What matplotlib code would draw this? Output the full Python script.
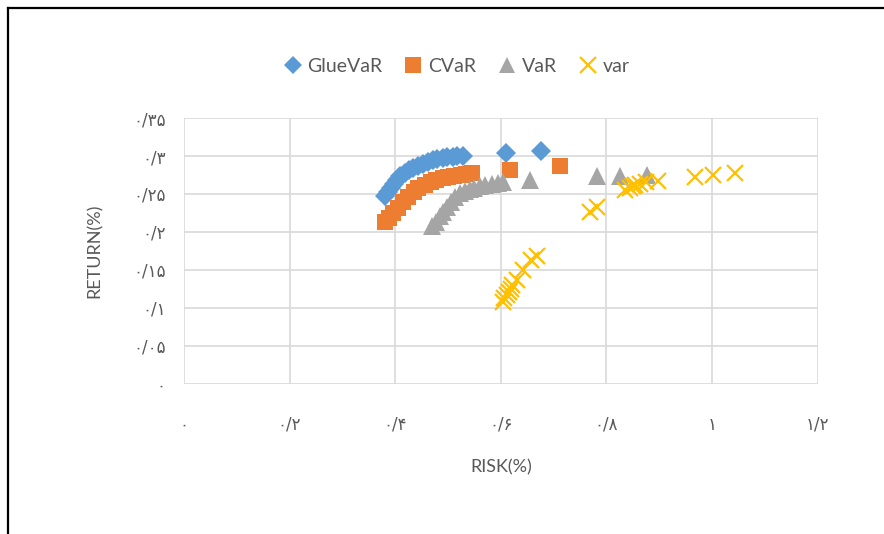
import matplotlib
matplotlib.use("Agg")
import matplotlib.pyplot as plt
from matplotlib.lines import Line2D

# Efficient-frontier points (risk, return) for each risk measure
gluevar_risk = [0.380, 0.386, 0.392, 0.397, 0.403, 0.410, 0.418, 0.426, 0.433, 0.443,
                0.452, 0.462, 0.471, 0.480, 0.490, 0.499, 0.509, 0.518, 0.528, 0.609, 0.677]
gluevar_ret = [0.247, 0.253, 0.258, 0.263, 0.268, 0.274, 0.278, 0.282, 0.284, 0.287,
               0.289, 0.292, 0.295, 0.296, 0.297, 0.299, 0.299, 0.300, 0.300, 0.304, 0.307]

cvar_risk = [0.380, 0.388, 0.395, 0.405, 0.414, 0.424, 0.435, 0.444, 0.456, 0.467,
             0.478, 0.490, 0.501, 0.512, 0.524, 0.535, 0.545, 0.617, 0.713]
cvar_ret = [0.213, 0.218, 0.225, 0.232, 0.239, 0.246, 0.253, 0.258, 0.262, 0.266,
            0.268, 0.271, 0.272, 0.274, 0.275, 0.276, 0.278, 0.282, 0.287]

var_risk = [0.469, 0.477, 0.484, 0.490, 0.498, 0.505, 0.513, 0.522, 0.532, 0.541,
            0.550, 0.560, 0.571, 0.583, 0.594, 0.604, 0.655, 0.783, 0.825, 0.876]
var_ret = [0.208, 0.213, 0.221, 0.226, 0.233, 0.239, 0.246, 0.251, 0.254, 0.257,
           0.258, 0.261, 0.262, 0.263, 0.264, 0.266, 0.268, 0.274, 0.274, 0.275]

variance_risk = [0.604, 0.607, 0.611, 0.615, 0.619, 0.622, 0.630, 0.643, 0.658, 0.668,
                 0.768, 0.783, 0.836, 0.844, 0.850, 0.855, 0.863, 0.874, 0.897,
                 0.967, 1.001, 1.043]
variance_ret = [0.108, 0.113, 0.117, 0.121, 0.125, 0.130, 0.137, 0.150, 0.163, 0.168,
                0.226, 0.233, 0.255, 0.258, 0.261, 0.262, 0.263, 0.266, 0.267,
                0.272, 0.275, 0.278]

# Axis ticks with Persian numerals
x_ticks = [0, 0.2, 0.4, 0.6, 0.8, 1.0, 1.2]
x_tick_labels = ["۰", "۰/۲", "۰/۴", "۰/۶", "۰/۸", "۱", "۱/۲"]
y_ticks = [0, 0.05, 0.10, 0.15, 0.20, 0.25, 0.30, 0.35]
y_tick_labels = ["۰", "۰/۰۵", "۰/۱", "۰/۱۵", "۰/۲", "۰/۲۵", "۰/۳", "۰/۳۵"]

series_names = ["GlueVaR", "CVaR", "VaR", "var"]

BLUE = "#5B9BD5"
ORANGE = "#ED7D31"
GRAY = "#A5A5A5"
GOLD = "#FFC000"
TEXT = "#595959"
GRID = "#D9D9D9"

plt.rcParams["font.family"] = ["Lato", "DejaVu Sans"]

fig = plt.figure(figsize=(8.84, 5.34), dpi=100)
ax = fig.add_axes([0.208, 0.281, 0.717, 0.498])

ax.plot(gluevar_risk, gluevar_ret, linestyle="none", marker="D", markersize=10,
        color=BLUE, markeredgewidth=0, label=series_names[0], zorder=3)
ax.plot(cvar_risk, cvar_ret, linestyle="none", marker="s", markersize=11.5,
        color=ORANGE, markeredgewidth=0, label=series_names[1], zorder=4)
ax.plot(var_risk, var_ret, linestyle="none", marker="^", markersize=12.5,
        color=GRAY, markeredgewidth=0, label=series_names[2], zorder=5)
ax.plot(variance_risk, variance_ret, linestyle="none", marker="x", markersize=12,
        color=GOLD, markeredgewidth=1.6, label=series_names[3], zorder=6)

ax.set_xlim(0, 1.2)
ax.set_ylim(0, 0.35)
ax.set_xticks(x_ticks)
ax.set_xticklabels(x_tick_labels, family=["DejaVu Sans"], fontsize=12, color=TEXT)
ax.set_yticks(y_ticks)
ax.set_yticklabels(y_tick_labels, family=["DejaVu Sans"], fontsize=12, color=TEXT)
ax.tick_params(axis="y", length=0, pad=13)
ax.tick_params(axis="x", length=0, pad=23)

ax.grid(True, color=GRID, linewidth=1.2)
ax.set_axisbelow(True)
for s in ax.spines.values():
    s.set_visible(False)

ax.set_xlabel("RISK(%)", fontsize=13, color=TEXT, labelpad=18)
ax.set_ylabel("RETURN(%)", fontsize=13, color=TEXT, labelpad=22)

handles = [
    Line2D([], [], linestyle="none", marker="D", markersize=9, color=BLUE, markeredgewidth=0),
    Line2D([], [], linestyle="none", marker="s", markersize=11, color=ORANGE, markeredgewidth=0),
    Line2D([], [], linestyle="none", marker="^", markersize=11, color=GRAY, markeredgewidth=0),
    Line2D([], [], linestyle="none", marker="x", markersize=11, color=GOLD, markeredgewidth=1.6),
]
fig.legend(handles, series_names, loc="center", bbox_to_anchor=(0.515, 0.875), ncol=4,
           frameon=False, fontsize=14, labelcolor=TEXT, handletextpad=0.15,
           columnspacing=1.0, handlelength=1.2)

# Outer frame of the chart
fig.add_artist(Line2D([0.0095, 0.0095], [0, 0.985], transform=fig.transFigure,
                      color="black", linewidth=1.6))
fig.add_artist(Line2D([0.0095, 1.0], [0.985, 0.985], transform=fig.transFigure,
                      color="black", linewidth=1.6))

fig.savefig("out.png", dpi=100, facecolor="white")
